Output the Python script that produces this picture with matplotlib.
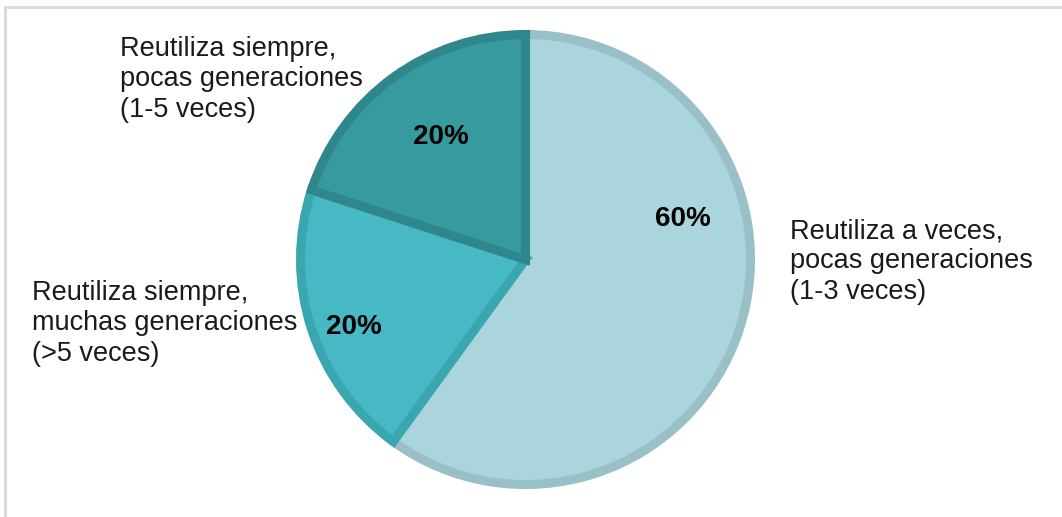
import matplotlib
matplotlib.use("Agg")
import matplotlib.pyplot as plt
from matplotlib.patches import Rectangle

categories = [
    "Reutiliza a veces,\npocas generaciones\n(1-3 veces)",
    "Reutiliza siempre,\nmuchas generaciones\n(>5 veces)",
    "Reutiliza siempre,\npocas generaciones\n(1-5 veces)",
]
values = [60, 20, 20]
pct_labels = ["60%", "20%", "20%"]

fill_colors = ["#AAD5DC", "#46B9C4", "#379A9F"]
edge_colors = ["#98C0C6", "#3AA6B0", "#2F878C"]

W, H = 1062, 517
fig = plt.figure(figsize=(W / 100, H / 100), dpi=100)
plt.rcParams['font.family'] = ['Liberation Sans', 'DejaVu Sans']
ax = fig.add_axes([0, 0, 1, 1])

cx, cy = 525.5, H - 259.5
wedges, _ = ax.pie(values, center=(cx, cy), radius=225, startangle=90,
                   counterclock=False, colors=fill_colors,
                   wedgeprops=dict(linewidth=6.5), frame=False)
for w, ec in zip(wedges, edge_colors):
    w.set_edgecolor(ec)
    w.set_joinstyle('miter')

ax.set_xlim(0, W)
ax.set_ylim(0, H)
ax.set_aspect('equal')
ax.axis('off')

# outer frame
ax.add_patch(Rectangle((5, -10), W + 10, H - 7 + 10, fill=False,
                       edgecolor="#D9D9D9", linewidth=2, clip_on=False))

pct_pos = [(683, 219), (354, 327), (441, 137)]
for (x, y), t in zip(pct_pos, pct_labels):
    ax.text(x, H - y, t, ha='center', va='center', fontsize=20,
            fontweight='bold', color='#000000')

label_pos = [(790, 218), (32, 280), (120, 36)]
for (x, y), t in zip(label_pos, categories):
    ax.text(x, H - y, t, ha='left', va='top', fontsize=19.5,
            color='#1a1a1a', linespacing=1.22)

fig.savefig("out.png", dpi=100)
